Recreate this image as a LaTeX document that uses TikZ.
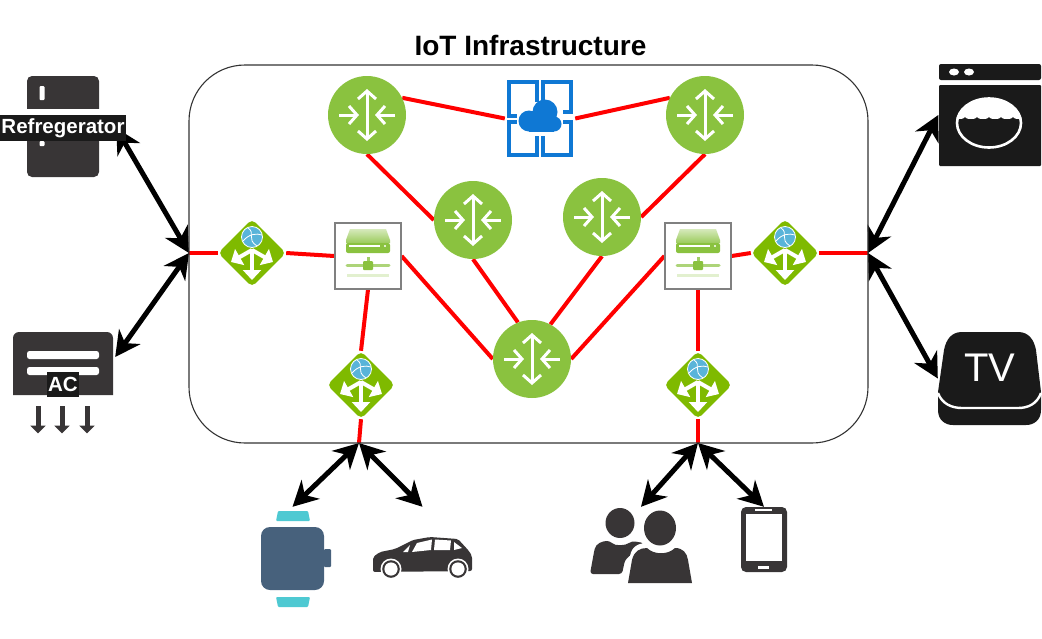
\documentclass[tikz,border=0pt]{standalone}
\usepackage{fontspec}
\setmainfont{Liberation Sans}
\usetikzlibrary{arrows.meta,backgrounds,shapes.geometric}
\definecolor{routergreen}{HTML}{8AC23F}
\definecolor{diamondgreen}{HTML}{7FBA00}
\definecolor{azureblue}{HTML}{0F78D4}
\definecolor{globeblue}{HTML}{59B4D9}
\definecolor{darkgadget}{HTML}{383536}
\definecolor{blackgadget}{HTML}{1A1A1A}
\definecolor{watchslate}{HTML}{47617C}
\definecolor{watchteal}{HTML}{4EC9D2}
\tikzset{
    router-node/.style = {circle, fill=routergreen, minimum size=78pt, inner sep=0pt},
    gateway-node/.style = {diamond, fill=diamondgreen, rounded corners=5pt, minimum size=68pt, aspect=1, inner sep=0pt},
    server-node/.style = {rectangle, draw=black!50, fill=white, line width=1.2pt, minimum size=66pt, inner sep=0pt},
    gadget-node/.style = {rectangle, inner sep=0pt},
    gadget-title/.style = {fill=blackgadget, text=white, font=\bfseries\fontsize{20.5}{22}\selectfont, inner xsep=1pt, inner ysep=0pt},
    red-link/.style = {draw=red, line width=4pt},
    duplex-link/.style = {black, line width=5pt, {Stealth[length=25pt,width=26pt,inset=8pt]}-{Stealth[length=25pt,width=26pt,inset=8pt]}},
    router-arrows/.pic = {
        \draw[white, line width=3pt, {Straight Barb[length=8pt,width=18pt]}-{Straight Barb[length=8pt,width=18pt]}] (0,-26) -- (0,26);
        \draw[white, line width=3pt, -{Straight Barb[length=8pt,width=18pt]}] (-28,0) -- (-8,0);
        \draw[white, line width=3pt, -{Straight Barb[length=8pt,width=18pt]}] (28,0) -- (8,0);
    },
    gateway-arrows/.pic = {
        \draw[white, line width=4pt, -{Triangle[length=10pt,width=18pt]}] (0,-4) -- (0,27);
        \draw[white, line width=4pt, -{Triangle[length=10pt,width=18pt]}] (0,-3) -- (-21,9);
        \draw[white, line width=4pt, -{Triangle[length=10pt,width=18pt]}] (0,-3) -- (21,9);
        \fill[globeblue, draw=white, line width=0.8pt] (0,-16) circle (10.5);
        \draw[white, line width=0.8pt] (-4,-25) .. controls (4,-20) and (-6,-14) .. (5,-7);
        \draw[white, line width=0.8pt] (-9,-12) .. controls (-3,-19) and (4,-20) .. (10,-18);
    },
    server-icon/.pic = {
        \shade[top color=routergreen!35, bottom color=routergreen!85] (-18,-27) -- (18,-27) -- (22,-16) -- (22,-13) -- (-22,-13) -- (-22,-16) -- cycle;
        \fill[routergreen, rounded corners=2pt] (-22,-13) rectangle (22,-3);
        \draw[white, line width=1.2pt] (-19,-10) -- (12,-10);
        \fill[white] (17,-10) circle (1.2);
        \fill[routergreen!80] (-1.5,1) rectangle (1.5,6);
        \draw[routergreen!70, line width=3pt, line cap=round] (-21,9) -- (21,9);
        \fill[routergreen, rounded corners=1pt] (-5,5) rectangle (5,14);
        \draw[routergreen!25, line width=3pt] (-21,19) -- (21,19);
    },
}
\begin{document}
\begin{tikzpicture}[x=1pt, y=-1pt]
\useasboundingbox (0,0) rectangle (1042,638);
\node[font=\bfseries\fontsize{28}{30}\selectfont] (title) at (530.5,45.5) {IoT Infrastructure};
\node[draw=black!80, line width=1.1pt, rounded corners=56pt, minimum width=679pt, minimum height=378pt, inner sep=0pt] (infra) at (528.5,254) {};
\coordinate (leftport) at (189,253);
\coordinate (rightport) at (868,253);
\coordinate (watchport) at (359,443);
\coordinate (peopleport) at (698,443);

\node[router-node] (rtopl) at (367,115) {};
\node[router-node] (rtopr) at (705,115) {};
\node[router-node] (rmidl) at (473,220) {};
\node[router-node] (rmidr) at (602,217) {};
\node[router-node] (rbot) at (532,359) {};
\foreach \r in {rtopl,rtopr,rmidl,rmidr,rbot}
    \pic at (\r) {router-arrows};

\node[gateway-node] (gwleft) at (252,253) {};
\node[gateway-node] (gwright) at (785,253) {};
\node[gateway-node] (gwwatch) at (361,385) {};
\node[gateway-node] (gwpeople) at (698,385) {};
\foreach \g in {gwleft,gwright,gwwatch,gwpeople}
    \pic at (\g) {gateway-arrows};

\node[server-node] (srvl) at (368,256) {};
\node[server-node] (srvr) at (698,256) {};
\foreach \s in {srvl,srvr}
    \pic at (\s) {server-icon};

\node[gadget-node, minimum width=70pt, minimum height=77pt] (azure) at (540,118.5) {};
\draw[azureblue, line width=4.6pt] (537,102) -- (537,82) -- (509,82) -- (509,116) -- (517,116);
\draw[azureblue, line width=4.6pt] (543,102) -- (543,82) -- (571,82) -- (571,112) -- (563,112);
\draw[azureblue, line width=4.6pt] (537,136) -- (537,155) -- (509,155) -- (509,122) -- (517,122);
\draw[azureblue, line width=4.6pt] (543,136) -- (543,155) -- (571,155) -- (571,122) -- (563,122);
\fill[azureblue] (545,112) circle (12.5) (529,121) circle (10.5) (554,124) circle (7.5);
\fill[azureblue] (529,120) rectangle (554,131.5);

\node[gadget-node, fill=darkgadget, rounded corners=5pt, minimum width=72pt, minimum height=101pt] (fridge) at (63,126.5) {};
\fill[white] (26,109) rectangle (100,115);
\fill[white, rounded corners=1pt] (39.5,86) rectangle (44.5,100);
\fill[white, rounded corners=1pt] (39.5,141) rectangle (44.5,146);
\node[gadget-title, minimum width=126pt, minimum height=26pt] (fridgetitle) at (63,128) {Refregerator};

\node[gadget-node, minimum width=100pt, minimum height=63pt] (ac) at (63,363.5) {};
\fill[darkgadget] (13,395) [rounded corners=6pt] -- (13,332) -- (113,332) [sharp corners] -- (113,395) -- cycle;
\fill[white, rounded corners=2.5pt] (27,351) rectangle (99,359);
\fill[white, rounded corners=2.5pt] (27,367) rectangle (99,375);
\node[gadget-title, minimum height=25pt] (actitle) at (63,384.5) {AC};
\foreach \x in {38,62,87}
    \draw[darkgadget, line width=5pt, -{Triangle[length=8pt,width=15pt]}] (\x,406) -- (\x,433.5);

\node[gadget-node, minimum width=103pt, minimum height=102pt] (washer) at (990,115) {};
\fill[blackgadget, rounded corners=2pt] (939,64) rectangle (1041,80);
\fill[white] (954,72) ellipse (5 and 3.5) (969,72) ellipse (5 and 3.5);
\fill[blackgadget, rounded corners=1pt] (939,85) rectangle (1041,166);
\begin{scope}
    \clip (989,123) ellipse (33 and 25);
    \fill[white] (950,90) rectangle (1030,117);
    \foreach \x in {959,971,983,995,1007,1019}
        \fill[white] (\x,117) ellipse (6 and 2);
\end{scope}
\draw[white, line width=2.6pt] (989,123) ellipse (32 and 24.5);

\node[gadget-node, minimum width=103pt, minimum height=93pt] (tvset) at (989.5,378.5) {};
\fill[blackgadget] (962,332) -- (1018,332) .. controls (1029,332) and (1034,340) .. (1036,350) -- (1041,392) .. controls (1041,404) and (1030,407) .. (1020,407) -- (960,407) .. controls (948,407) and (938,404) .. (938,392) -- (944,350) .. controls (946,340) and (951,332) .. (962,332) -- cycle;
\fill[blackgadget] (938,395) -- (1041,395) -- (1041,410) .. controls (1041,420) and (1034,425) .. (1026,425) -- (953,425) .. controls (945,425) and (938,420) .. (938,410) -- cycle;
\draw[white, line width=2.4pt] (938,393) .. controls (942,404) and (952,408) .. (962,408) -- (1018,408) .. controls (1028,408) and (1037,404) .. (1041,393);
\node[text=white, font=\fontsize{40}{42}\selectfont, inner sep=0pt] (tvtext) at (990,368) {TV};

\node[gadget-node, minimum width=63pt, minimum height=100pt] (watch) at (292.5,557) {};
\fill[watchslate, rounded corners=9pt] (261,527) rectangle (324,590);
\fill[watchslate, rounded corners=1pt] (324,549) rectangle (331,567);
\fill[watchteal, rounded corners=1pt] (278,511) -- (308,511) -- (310,521) -- (276,521) -- cycle;
\fill[watchteal, rounded corners=1pt] (276,597) -- (310,597) -- (308,607) -- (278,607) -- cycle;

\node[gadget-node, minimum width=99pt, minimum height=71pt] (car) at (422.5,542.5) {};
\fill[darkgadget, rounded corners=2pt] (373,572) -- (373,557) -- (380,552) -- (395,549) -- (413,540) -- (430,537) -- (458,539) -- (469,551) -- (472,556) -- (472,571) -- cycle;
\fill[white] (412,552) -- (417,543) -- (432,539.5) -- (431,550) -- cycle;
\fill[white] (435,539.5) -- (451,540.5) -- (450,550) -- (434,550) -- cycle;
\fill[white] (454,542) -- (462,548) -- (454,550) -- cycle;
\fill[white] (403,552) -- (410,545) -- (408,552) -- cycle;
\foreach \x in {391,458} {
    \fill[white] (\x,569) circle (10.5);
    \fill[darkgadget] (\x,569) circle (8.8);
    \fill[white] (\x,569) circle (6.6);
}

\node[gadget-node, minimum width=102pt, minimum height=76pt] (people) at (641,545) {};
\fill[darkgadget] (620,523) ellipse (14.5 and 15);
\fill[darkgadget, rounded corners=3pt] (590,574) -- (594,552) .. controls (596,543) and (603,541) .. (610,541) .. controls (615,546) and (625,546) .. (632,541) -- (644,543) -- (625,560) -- (622,574) -- cycle;
\fill[white] (660,528) ellipse (18 and 20);
\fill[white] (625,584) -- (630,556) .. controls (632,545) and (640,543) .. (648,543) -- (672,545) -- (680,560) -- (680,584) -- cycle;
\fill[darkgadget] (660,528) ellipse (16 and 17.5);
\fill[darkgadget] (628,583) -- (632,560) .. controls (634,551) and (640,548) .. (647,548) .. controls (654,555) and (668,555) .. (675,548) .. controls (683,548) and (687,553) .. (688,560) -- (692,583) -- cycle;

\node[gadget-node, fill=darkgadget, rounded corners=5pt, minimum width=46pt, minimum height=65pt] (tablet) at (764,539.5) {};
\fill[white] (746,514) rectangle (782,561);
\fill[white] (755,508.5) rectangle (772,511);
\fill[white] (758,565.5) rectangle (769,568.5);

\begin{scope}[on background layer]
\draw[red-link] (rtopl.26) -- (azure.west);
\draw[red-link] (azure.east) -- (rtopr.154);
\draw[red-link] (rtopl.south) -- (rmidl.west);
\draw[red-link] (rtopr.south) -- (rmidr.east);
\draw[red-link] (rmidl.south) -- (rbot.111);
\draw[red-link] (rmidr.south) -- (rbot.62);
\draw[red-link] (srvl.east) -- (rbot.west);
\draw[red-link] (srvr.west) -- (rbot.east);
\draw[red-link] (leftport) -- (gwleft.west);
\draw[red-link] (gwleft.east) -- (srvl.west);
\draw[red-link] (srvr.east) -- (gwright.west);
\draw[red-link] (gwright.east) -- (rightport);
\draw[red-link] (srvl.south) -- (gwwatch.north);
\draw[red-link] (gwwatch.south) -- (watchport);
\draw[red-link] (srvr.south) -- (gwpeople.north);
\draw[red-link] (gwpeople.south) -- (peopleport);

\draw[duplex-link] ([xshift=-10pt]fridgetitle.east) -- (leftport);
\draw[duplex-link] ([xshift=2pt,yshift=6.5pt]ac.east) -- (leftport);
\draw[duplex-link] (washer.west) -- (rightport);
\draw[duplex-link] (tvset.west) -- (rightport);
\draw[duplex-link] (watchport) -- (watch.north);
\draw[duplex-link] (watchport) -- (car.north);
\draw[duplex-link] (peopleport) -- (people.north);
\draw[duplex-link] (peopleport) -- (tablet.north);
\end{scope}
\end{tikzpicture}
\end{document}
